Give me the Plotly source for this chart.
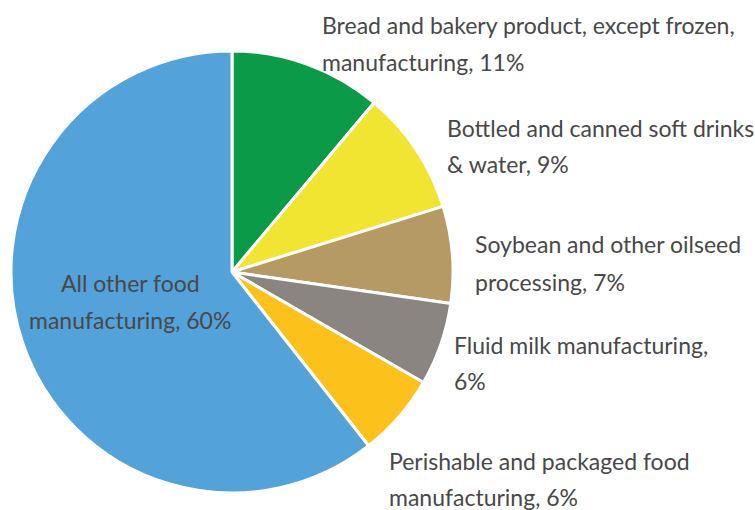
import plotly.graph_objects as go

# Shares of food manufacturing, clockwise from 12 o'clock
categories = [
    "Bread and bakery product, except frozen, manufacturing",
    "Bottled and canned soft drinks & water",
    "Soybean and other oilseed processing",
    "Fluid milk manufacturing",
    "Perishable and packaged food manufacturing",
    "All other food manufacturing",
]
shares = [11, 9, 7, 6, 6, 60]
colors = ["#0a9a48", "#f2e531", "#b59a63", "#8a8580", "#fcc11a", "#54a2da"]

# Label text, split into display lines
label_lines = [
    ["Bread and bakery product, except frozen,", "manufacturing, 11%"],
    ["Bottled and canned soft drinks", "& water, 9%"],
    ["Soybean and other oilseed", "processing, 7%"],
    ["Fluid milk manufacturing,", "6%"],
    ["Perishable and packaged food", "manufacturing, 6%"],
    ["All other food", "manufacturing, 60%"],
]

W, H = 755, 510
TEXT_COLOR = "#484848"
FONT = "Lato"
FONT_SIZE = 23

fig = go.Figure(
    go.Pie(
        labels=categories,
        values=shares,
        marker=dict(colors=colors, line=dict(color="white", width=3)),
        sort=False,
        direction="clockwise",
        rotation=0,
        textinfo="none",
        hoverinfo="label+percent",
        domain=dict(x=[11 / W, 453 / W], y=[(H - 493) / H, (H - 51) / H]),
    )
)

# label placement: (x, first-line y, second-line y, anchor) in pixels
placements = [
    (320, 25, 62, "left"),
    (445, 128, 164, "left"),
    (473, 244, 282, "left"),
    (452, 345, 381, "left"),
    (387, 461, 497, "left"),
    (130, 283, 320, "center"),
]

annotations = []
for lines, (px, y1, y2, anchor) in zip(label_lines, placements):
    for text, py in zip(lines, (y1, y2)):
        annotations.append(
            dict(
                text=text,
                x=px / W,
                y=1 - py / H,
                xref="paper",
                yref="paper",
                xanchor=anchor,
                yanchor="middle",
                showarrow=False,
                font=dict(family=FONT, size=FONT_SIZE, color=TEXT_COLOR),
            )
        )

fig.update_layout(
    width=W,
    height=H,
    margin=dict(l=0, r=0, t=0, b=0),
    paper_bgcolor="white",
    plot_bgcolor="white",
    showlegend=False,
    annotations=annotations,
)

fig.write_html("out.html")
